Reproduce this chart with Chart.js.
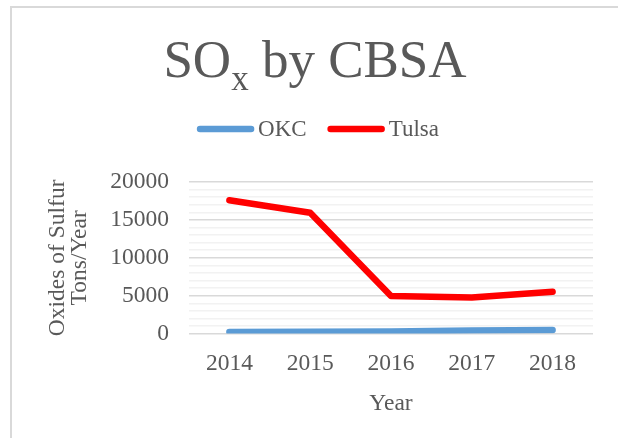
<!DOCTYPE html>
<html>
<head>
<meta charset="utf-8">
<script src="https://cdn.jsdelivr.net/npm/chart.js@4/dist/chart.umd.min.js"></script>
<style>
  html, body { margin: 0; padding: 0; background: #fff; overflow: hidden; }
  #wrap { position: relative; width: 618px; height: 438px; }
  #frame { position: absolute; left: 10px; top: 6px; width: 700px; height: 500px;
           border-left: 2px solid #D9D9D9; border-top: 2px solid #D9D9D9; }
  canvas { position: absolute; left: 0; top: 0; }
</style>
</head>
<body>
<div id="wrap">
  <div id="frame"></div>
  <canvas id="chart" width="618" height="438"></canvas>
</div>
<script>
var years = ['2014', '2015', '2016', '2017', '2018'];
var okc = [210, 260, 290, 420, 470];
var tulsa = [17600, 15950, 4970, 4750, 5530];
var seriesNames = ['OKC', 'Tulsa'];
var seriesColors = ['#5B9BD5', '#FF0000'];

var textColor = '#595959';
var serif = '"Liberation Serif", "Times New Roman", serif';

// title with subscript + custom legend (closer to the original than the built-in ones)
var headerPlugin = {
    id: 'header',
    afterDraw: function(chart) {
        var ctx = chart.ctx;
        var cx = 315;
        ctx.save();
        ctx.fillStyle = textColor;
        ctx.textBaseline = 'alphabetic';

        var big = '53px ' + serif, small = '35px ' + serif;
        ctx.font = big;
        var w1 = ctx.measureText('SO').width;
        var w3 = ctx.measureText(' by CBSA').width;
        ctx.font = small;
        var w2 = ctx.measureText('x').width;
        var x = cx - (w1 + w2 + w3) / 2;
        ctx.font = big;
        ctx.fillText('SO', x, 77);
        ctx.font = small;
        ctx.fillText('x', x + w1, 90);
        ctx.font = big;
        ctx.fillText(' by CBSA', x + w1 + w2, 77);

        // legend
        ctx.font = '23px ' + serif;
        var lineLen = 57, gap = 4, itemGap = 21;
        var total = 0;
        seriesNames.forEach(function(n, i) {
            total += lineLen + gap + ctx.measureText(n).width;
            if (i < seriesNames.length - 1) total += itemGap;
        });
        var lx = 318 - total / 2, ly = 129;
        seriesNames.forEach(function(n, i) {
            ctx.strokeStyle = seriesColors[i];
            ctx.lineWidth = 6.5;
            ctx.lineCap = 'round';
            ctx.beginPath();
            ctx.moveTo(lx + 3, ly);
            ctx.lineTo(lx + lineLen - 3, ly);
            ctx.stroke();
            lx += lineLen + gap;
            ctx.textBaseline = 'middle';
            ctx.fillText(n, lx, ly + 1);
            lx += ctx.measureText(n).width + itemGap;
        });
        ctx.restore();
    }
};

new Chart(document.getElementById('chart'), {
    type: 'line',
    data: {
        labels: years,
        datasets: [
            {
                label: seriesNames[0],
                data: okc,
                borderColor: seriesColors[0],
                backgroundColor: seriesColors[0],
                borderWidth: 6.5,
                borderCapStyle: 'round',
                borderJoinStyle: 'round',
                pointRadius: 0,
                tension: 0
            },
            {
                label: seriesNames[1],
                data: tulsa,
                borderColor: seriesColors[1],
                backgroundColor: seriesColors[1],
                borderWidth: 6.5,
                borderCapStyle: 'round',
                borderJoinStyle: 'round',
                pointRadius: 0,
                tension: 0
            }
        ]
    },
    options: {
        responsive: false,
        animation: false,
        layout: { padding: { top: 182, right: 25, bottom: 20, left: 47 } },
        plugins: {
            legend: { display: false },
            title: { display: false },
            tooltip: { enabled: false }
        },
        scales: {
            x: {
                offset: true,
                grid: { display: false },
                border: { display: false },
                ticks: { color: textColor, font: { family: serif, size: 23.5 }, padding: 8 },
                title: { display: true, text: 'Year', color: textColor,
                         font: { family: serif, size: 23.5 }, padding: { top: 4, bottom: 0 } }
            },
            y: {
                min: 0,
                max: 20000,
                border: { display: false },
                grid: {
                    drawTicks: false,
                    lineWidth: 1.5,
                    color: function(c) {
                        return c.tick && c.tick.value % 5000 === 0 ? '#D9D9D9' : '#F2F2F2';
                    }
                },
                ticks: {
                    stepSize: 1000,
                    autoSkip: false,
                    padding: 20,
                    color: textColor,
                    font: { family: serif, size: 23.5 },
                    callback: function(v) { return v % 5000 === 0 ? String(v) : ''; }
                },
                title: { display: true, text: ['Oxides of Sulfur', 'Tons/Year'], color: textColor,
                         font: { family: serif, size: 23.5, lineHeight: 0.92 }, padding: { top: 0, bottom: 0 } }
            }
        }
    },
    plugins: [headerPlugin]
});
</script>
</body>
</html>
